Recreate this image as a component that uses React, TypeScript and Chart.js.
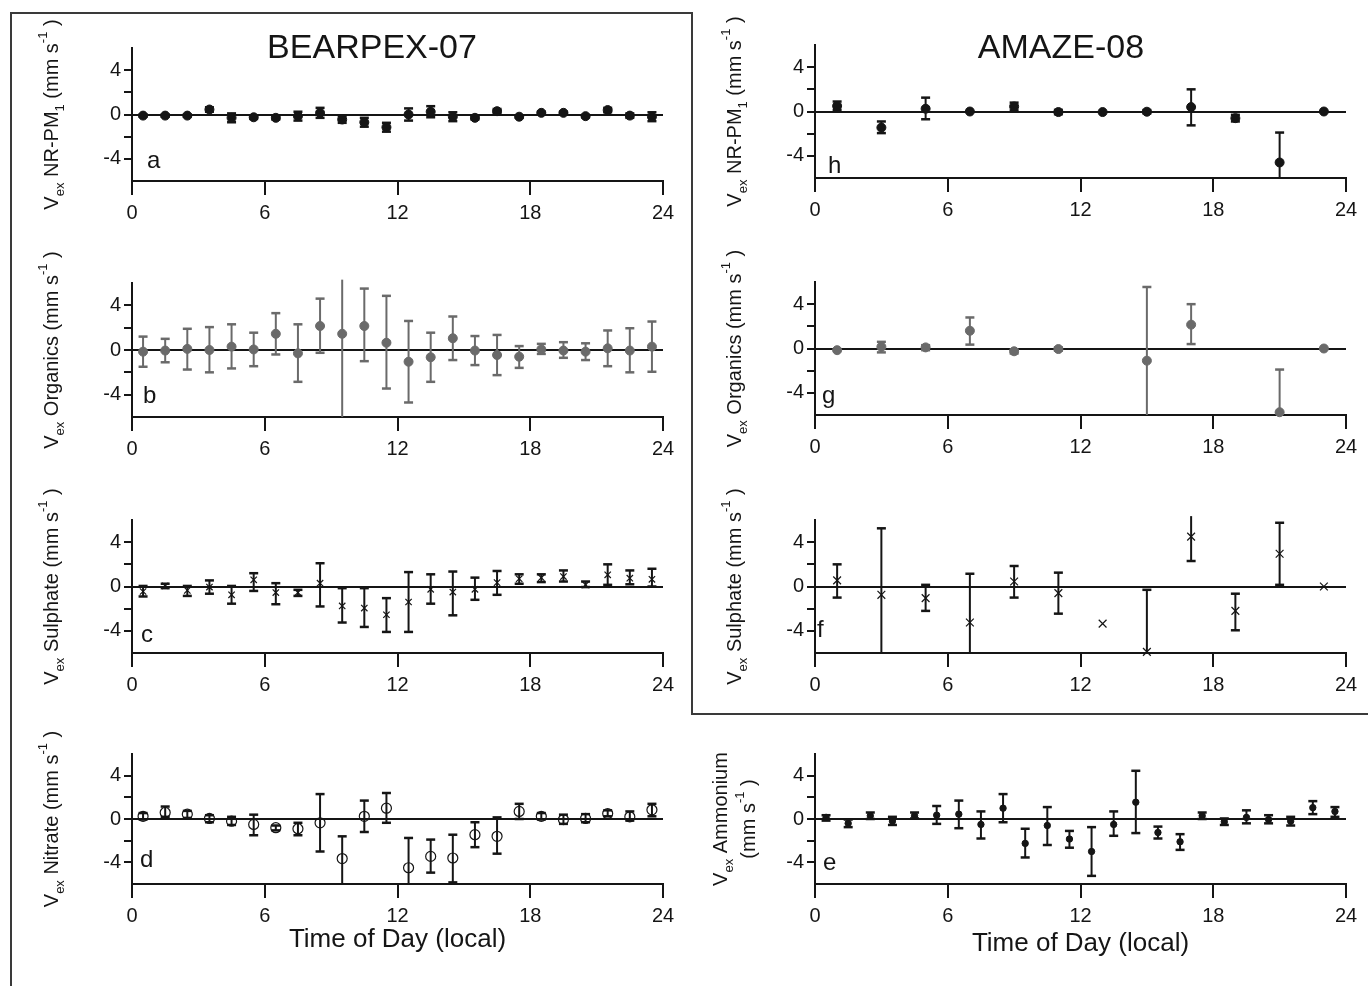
import React, { useEffect, useRef } from 'react';
import { Chart, registerables } from 'chart.js';

Chart.register(...registerables);

const FONT = '"Liberation Sans", Arial, Helvetica, sans-serif';
Chart.defaults.font.family = FONT;

const BLACK = '#151515';
const GRAY = '#6a6a6a';

// ---------- tick labels ----------
const xTickValues = [0, 6, 12, 18, 24];
const yTickLabelled = [-4, 0, 4];
const xAxisTitle = 'Time of Day (local)';
const titleBearpex = 'BEARPEX-07';
const titleAmaze = 'AMAZE-08';

// ---------- x categories (hour of day) ----------
const halfHours = [0.5, 1.5, 2.5, 3.5, 4.5, 5.5, 6.5, 7.5, 8.5, 9.5, 10.5, 11.5, 12.5, 13.5, 14.5, 15.5, 16.5, 17.5, 18.5, 19.5, 20.5, 21.5, 22.5, 23.5];
const oddHours = [1, 3, 5, 7, 9, 11, 13, 15, 17, 19, 21, 23];
const amazeOrgHours = [1, 3, 5, 7, 9, 11, 15, 17, 21, 23];

// ---------- BEARPEX-07 ----------
// a: NR-PM1
const bpNrpmVal = [-0.1, -0.1, -0.1, 0.45, -0.3, -0.25, -0.3, -0.15, 0.15, -0.45, -0.7, -1.15, 0, 0.25, -0.2, -0.3, 0.3, -0.2, 0.15, 0.15, -0.15, 0.4, -0.1, -0.2];
const bpNrpmLow = [-0.2, -0.2, -0.2, 0.25, -0.7, -0.4, -0.45, -0.55, -0.3, -0.75, -1.1, -1.55, -0.55, -0.25, -0.6, -0.45, 0.1, -0.3, 0.05, 0.05, -0.25, 0.2, -0.3, -0.6];
const bpNrpmHigh = [0, 0, 0, 0.65, 0.1, -0.1, -0.15, 0.25, 0.6, -0.15, -0.3, -0.75, 0.55, 0.75, 0.2, -0.15, 0.5, -0.1, 0.25, 0.25, -0.05, 0.6, 0.1, 0.2];
// b: Organics
const bpOrgVal = [-0.15, -0.05, 0.1, 0, 0.3, 0.05, 1.45, -0.3, 2.15, 1.45, 2.15, 0.65, -1.05, -0.65, 1.05, -0.05, -0.45, -0.6, 0.05, -0.05, -0.15, 0.15, -0.05, 0.3];
const bpOrgLow = [-1.5, -1.1, -1.75, -2.0, -1.65, -1.45, -0.4, -2.85, -0.25, -6.5, -1.0, -3.45, -4.7, -2.85, -0.9, -1.35, -2.25, -1.6, -0.35, -0.7, -0.9, -1.45, -2.0, -1.95];
const bpOrgHigh = [1.2, 1.0, 1.9, 2.05, 2.3, 1.55, 3.3, 2.3, 4.6, 6.3, 5.5, 4.85, 2.6, 1.55, 3.0, 1.25, 1.35, 0.35, 0.55, 0.7, 0.6, 1.75, 1.95, 2.55];
// c: Sulphate
const bpSulVal = [-0.45, 0.05, -0.35, -0.05, -0.75, 0.6, -0.55, -0.55, 0.3, -1.75, -1.95, -2.55, -1.4, -0.25, -0.5, -0.25, 0.35, 0.7, 0.8, 0.9, 0.15, 1.05, 0.75, 0.65];
const bpSulLow = [-0.9, -0.15, -0.85, -0.65, -1.55, -0.4, -1.6, -0.85, -1.8, -3.25, -3.65, -4.1, -4.1, -1.55, -2.6, -1.2, -0.75, 0.25, 0.4, 0.45, -0.05, 0.15, 0.2, 0];
const bpSulHigh = [0.05, 0.25, 0.05, 0.55, 0.05, 1.2, 0.3, -0.3, 2.1, -0.15, -0.15, -1.05, 1.3, 1.1, 1.35, 0.8, 1.4, 1.1, 1.1, 1.45, 0.45, 2.0, 1.45, 1.6];
// d: Nitrate
const bpNitVal = [0.25, 0.6, 0.45, 0.05, -0.2, -0.5, -0.8, -0.9, -0.35, -3.65, 0.25, 1.0, -4.5, -3.45, -3.6, -1.45, -1.6, 0.7, 0.25, -0.05, 0.05, 0.5, 0.2, 0.85];
const bpNitLow = [-0.05, 0.2, 0.1, -0.3, -0.55, -1.5, -1.05, -1.5, -3.0, -6.5, -1.2, -0.35, -6.5, -4.95, -5.85, -2.6, -3.2, 0, -0.05, -0.45, -0.3, 0.25, -0.15, 0.25];
const bpNitHigh = [0.55, 1.15, 0.75, 0.35, 0.2, 0.4, -0.6, -0.35, 2.3, -1.6, 1.7, 2.4, -1.75, -1.9, -1.45, -0.3, 0.15, 1.4, 0.55, 0.4, 0.45, 0.8, 0.7, 1.4];

// ---------- AMAZE-08 ----------
// h: NR-PM1
const amNrpmVal = [0.5, -1.45, 0.25, 0, 0.45, -0.05, -0.05, -0.02, 0.4, -0.6, -4.6, 0];
const amNrpmLow = [0.15, -1.95, -0.7, 0, 0.1, -0.25, -0.05, -0.17, -1.25, -0.9, -6.5, 0];
const amNrpmHigh = [0.9, -0.9, 1.25, 0, 0.8, 0.15, -0.05, 0.13, 2.0, -0.3, -1.9, 0];
// g: Organics
const amOrgVal = [-0.15, 0.15, 0.1, 1.6, -0.25, -0.05, -1.1, 2.15, -5.75, 0];
const amOrgLow = [-0.15, -0.35, -0.15, 0.35, -0.45, -0.2, -6.5, 0.4, -6.5, 0];
const amOrgHigh = [-0.15, 0.6, 0.3, 2.8, -0.1, 0.1, 5.55, 4.0, -1.9, 0];
// f: Sulphate
const amSulVal = [0.55, -0.75, -1.05, -3.25, 0.45, -0.6, -3.35, -5.9, 4.5, -2.2, 2.95, 0];
const amSulLow = [-1.0, -6.5, -2.2, -6.5, -1.0, -2.45, -3.35, -6.5, 2.3, -3.95, 0.15, 0];
const amSulHigh = [2.0, 5.25, 0.15, 1.15, 1.85, 1.25, -3.35, -0.3, 6.4, -0.65, 5.75, 0];
// e: Ammonium
const amAmmVal = [0.15, -0.4, 0.3, -0.2, 0.3, 0.35, 0.45, -0.5, 1.0, -2.25, -0.6, -1.85, -3.0, -0.5, 1.55, -1.25, -2.1, 0.3, -0.25, 0.15, -0.05, -0.2, 1.05, 0.7];
const amAmmLow = [-0.15, -0.75, 0, -0.55, 0.05, -0.45, -0.85, -1.8, -0.3, -3.55, -2.4, -2.65, -5.25, -1.55, -1.3, -1.8, -2.85, 0, -0.55, -0.4, -0.4, -0.6, 0.45, 0.2];
const amAmmHigh = [0.35, -0.05, 0.6, 0.2, 0.6, 1.2, 1.7, 0.7, 2.3, -0.9, 1.1, -1.1, -0.75, 0.7, 4.45, -0.7, -1.4, 0.6, 0.05, 0.8, 0.35, 0.2, 1.65, 1.1];

const Y_MIN = -6;
const Y_MAX = 6;
const Y_OVERSHOOT = 6.35;

type Seg = [string, string];

// y-axis label pieces (text with sub/superscripts)
const lblNrpm: Seg[] = [['V', ''], ['ex', 'sub'], [' NR-PM', ''], ['1', 'sub'], [' (mm s', ''], ['-1', 'sup'], [' )', '']];
const lblOrg: Seg[] = [['V', ''], ['ex', 'sub'], [' Organics (mm s', ''], ['-1', 'sup'], [' )', '']];
const lblSul: Seg[] = [['V', ''], ['ex', 'sub'], [' Sulphate (mm s', ''], ['-1', 'sup'], [' )', '']];
const lblNit: Seg[] = [['V', ''], ['ex', 'sub'], [' Nitrate (mm s', ''], ['-1', 'sup'], [' )', '']];
const lblAmm1: Seg[] = [['V', ''], ['ex', 'sub'], [' Ammonium', '']];
const lblAmm2: Seg[] = [['(mm s', ''], ['-1', 'sup'], [' )', '']];

function drawRich(ctx: CanvasRenderingContext2D, segs: Seg[], baseX: number, centerY: number, size: number) {
  ctx.save();
  ctx.translate(baseX, centerY);
  ctx.rotate(-Math.PI / 2);
  const small = Math.round(size * 0.65);
  const fontFor = (k: string) => `${k ? small : size}px ${FONT}`;
  let total = 0;
  segs.forEach(([t, k]) => {
    ctx.font = fontFor(k);
    total += ctx.measureText(t).width;
  });
  let x = -total / 2;
  ctx.textAlign = 'left';
  ctx.textBaseline = 'alphabetic';
  ctx.fillStyle = BLACK;
  segs.forEach(([t, k]) => {
    ctx.font = fontFor(k);
    const dy = k === 'sub' ? size * 0.28 : k === 'sup' ? -size * 0.55 : 0;
    ctx.fillText(t, x, dy);
    x += ctx.measureText(t).width;
  });
  ctx.restore();
}

const errorBarPlugin = {
  id: 'errorBars',
  beforeDatasetsDraw(chart: any) {
    const ctx: CanvasRenderingContext2D = chart.ctx;
    const xs = chart.scales.x;
    const ys = chart.scales.y;
    chart.data.datasets.forEach((ds: any) => {
      if (!ds.errLow) return;
      ctx.save();
      ctx.strokeStyle = ds.errColor;
      ctx.lineCap = 'butt';
      const cap = 4.5;
      ds.data.forEach((p: any, i: number) => {
        const lo = ds.errLow[i];
        const hi = ds.errHigh[i];
        if (hi - lo < 0.01) return;
        const x = xs.getPixelForValue(p.x);
        const y1 = ys.getPixelForValue(Math.max(lo, Y_MIN));
        const y2 = ys.getPixelForValue(Math.min(hi, Y_OVERSHOOT));
        ctx.lineWidth = ds.errWidth;
        ctx.beginPath();
        ctx.moveTo(x, y1);
        ctx.lineTo(x, y2);
        ctx.stroke();
        ctx.lineWidth = ds.errWidth + 0.5;
        if (lo >= Y_MIN) {
          ctx.beginPath();
          ctx.moveTo(x - cap, y1);
          ctx.lineTo(x + cap, y1);
          ctx.stroke();
        }
        if (hi <= Y_MAX) {
          ctx.beginPath();
          ctx.moveTo(x - cap, y2);
          ctx.lineTo(x + cap, y2);
          ctx.stroke();
        }
      });
      ctx.restore();
    });
  },
};

interface PanelDef {
  key: string;
  left: number;
  width: number;
  plotLeft: number;
  plotRight: number;
  plotTop: number;
  plotBottom: number;
  xH: number;
  xTitle: boolean;
  hours: number[];
  vals: number[];
  low: number[];
  high: number[];
  style: string;
  radius: number;
  fill: string;
  stroke: string;
  borderW: number;
  errColor: string;
  letter: string;
  letterDx: number;
  letterDy: number;
  title?: string;
  titleX?: number;
  titleY?: number;
  ylabels: Seg[][];
  ylabelX: number[];
}

const TOP_PAD = 45;
const LEFT_COL = { left: 0, width: 688, plotLeft: 132, plotRight: 663 };
const RIGHT_COL = { left: 695, width: 673, plotLeft: 815, plotRight: 1346 };

const panels: PanelDef[] = [
  {
    key: 'a', ...LEFT_COL, plotTop: 48, plotBottom: 181, xH: 45, xTitle: false,
    hours: halfHours, vals: bpNrpmVal, low: bpNrpmLow, high: bpNrpmHigh,
    style: 'circle', radius: 4.5, fill: BLACK, stroke: BLACK, borderW: 1, errColor: BLACK,
    letter: 'a', letterDx: 15, letterDy: 13, title: titleBearpex, titleX: 372, titleY: 57.5,
    ylabels: [lblNrpm], ylabelX: [58],
  },
  {
    key: 'b', ...LEFT_COL, plotTop: 283, plotBottom: 417, xH: 45, xTitle: false,
    hours: halfHours, vals: bpOrgVal, low: bpOrgLow, high: bpOrgHigh,
    style: 'circle', radius: 4.5, fill: GRAY, stroke: GRAY, borderW: 1, errColor: GRAY,
    letter: 'b', letterDx: 11, letterDy: 14, ylabels: [lblOrg], ylabelX: [58],
  },
  {
    key: 'c', ...LEFT_COL, plotTop: 520, plotBottom: 653, xH: 45, xTitle: false,
    hours: halfHours, vals: bpSulVal, low: bpSulLow, high: bpSulHigh,
    style: 'crossRot', radius: 4.5, fill: BLACK, stroke: BLACK, borderW: 1.2, errColor: BLACK,
    letter: 'c', letterDx: 9, letterDy: 11, ylabels: [lblSul], ylabelX: [58],
  },
  {
    key: 'd', ...LEFT_COL, plotTop: 754, plotBottom: 884, xH: 71, xTitle: true,
    hours: halfHours, vals: bpNitVal, low: bpNitLow, high: bpNitHigh,
    style: 'circle', radius: 5, fill: 'rgba(255,255,255,0)', stroke: BLACK, borderW: 1.2, errColor: BLACK,
    letter: 'd', letterDx: 8, letterDy: 17, ylabels: [lblNit], ylabelX: [58],
  },
  {
    key: 'h', ...RIGHT_COL, plotTop: 45, plotBottom: 178, xH: 45, xTitle: false,
    hours: oddHours, vals: amNrpmVal, low: amNrpmLow, high: amNrpmHigh,
    style: 'circle', radius: 4.5, fill: BLACK, stroke: BLACK, borderW: 1, errColor: BLACK,
    letter: 'h', letterDx: 13, letterDy: 5, title: titleAmaze, titleX: 1061, titleY: 57.5,
    ylabels: [lblNrpm], ylabelX: [741],
  },
  {
    key: 'g', ...RIGHT_COL, plotTop: 282, plotBottom: 415, xH: 45, xTitle: false,
    hours: amazeOrgHours, vals: amOrgVal, low: amOrgLow, high: amOrgHigh,
    style: 'circle', radius: 4.5, fill: GRAY, stroke: GRAY, borderW: 1, errColor: GRAY,
    letter: 'g', letterDx: 7, letterDy: 12, ylabels: [lblOrg], ylabelX: [741],
  },
  {
    key: 'f', ...RIGHT_COL, plotTop: 520, plotBottom: 653, xH: 45, xTitle: false,
    hours: oddHours, vals: amSulVal, low: amSulLow, high: amSulHigh,
    style: 'crossRot', radius: 5.5, fill: BLACK, stroke: BLACK, borderW: 1.2, errColor: BLACK,
    letter: 'f', letterDx: 2, letterDy: 16, ylabels: [lblSul], ylabelX: [741],
  },
  {
    key: 'e', ...RIGHT_COL, plotTop: 754, plotBottom: 884, xH: 75, xTitle: true,
    hours: halfHours, vals: amAmmVal, low: amAmmLow, high: amAmmHigh,
    style: 'circle', radius: 3.2, fill: BLACK, stroke: BLACK, borderW: 1, errColor: BLACK,
    letter: 'e', letterDx: 8, letterDy: 14, ylabels: [lblAmm1, lblAmm2], ylabelX: [727, 755],
  },
];

function panelTop(p: PanelDef) {
  return p.plotTop - TOP_PAD;
}
function panelHeight(p: PanelDef) {
  return p.plotBottom - p.plotTop + TOP_PAD + p.xH;
}

function makeTextPlugin(p: PanelDef) {
  const top = panelTop(p);
  return {
    id: 'panelText',
    afterDraw(chart: any) {
      const ctx: CanvasRenderingContext2D = chart.ctx;
      const a = chart.chartArea;
      ctx.save();
      ctx.fillStyle = BLACK;
      ctx.font = `24px ${FONT}`;
      ctx.textAlign = 'left';
      ctx.textBaseline = 'alphabetic';
      ctx.fillText(p.letter, a.left + p.letterDx, a.bottom - p.letterDy);
      if (p.title) {
        ctx.font = `34px ${FONT}`;
        ctx.textAlign = 'center';
        ctx.fillText(p.title, (p.titleX as number) - p.left, (p.titleY as number) - top);
      }
      const cy = (a.top + a.bottom) / 2;
      p.ylabels.forEach((segs, i) => drawRich(ctx, segs, p.ylabelX[i] - p.left, cy, 20));
      ctx.restore();
    },
  };
}

function makeConfig(p: PanelDef): any {
  return {
    type: 'scatter',
    data: {
      datasets: [
        {
          data: p.hours.map((hr, i) => ({ x: hr, y: p.vals[i] })),
          errLow: p.low,
          errHigh: p.high,
          errColor: p.errColor,
          errWidth: 2,
          pointStyle: p.style,
          pointRadius: p.radius,
          pointHoverRadius: p.radius,
          pointBackgroundColor: p.fill,
          pointBorderColor: p.stroke,
          pointBorderWidth: p.borderW,
          showLine: false,
          clip: false,
        },
      ],
    },
    options: {
      responsive: false,
      maintainAspectRatio: false,
      animation: false,
      events: [],
      layout: {
        padding: {
          left: 0,
          top: TOP_PAD,
          right: p.width - (p.plotRight - p.left),
          bottom: 0,
        },
      },
      plugins: {
        legend: { display: false },
        tooltip: { enabled: false },
        title: { display: false },
      },
      scales: {
        x: {
          type: 'linear',
          position: 'bottom',
          min: 0,
          max: 24,
          afterFit: (s: any) => {
            s.height = p.xH;
          },
          ticks: {
            stepSize: 6,
            autoSkip: false,
            maxRotation: 0,
            padding: 6,
            color: BLACK,
            font: { size: 20, family: FONT },
            callback: (v: number) => (xTickValues.includes(v) ? String(v) : ''),
          },
          grid: {
            drawOnChartArea: false,
            drawTicks: true,
            tickLength: 14,
            tickColor: BLACK,
            tickWidth: 2,
            lineWidth: 2,
          },
          border: { display: true, color: BLACK, width: 2 },
          title: p.xTitle
            ? { display: true, text: xAxisTitle, color: BLACK, font: { size: 26, family: FONT }, padding: { top: 0, bottom: 0 } }
            : { display: false },
        },
        y: {
          type: 'linear',
          min: Y_MIN,
          max: Y_MAX,
          afterFit: (s: any) => {
            s.width = p.plotLeft - p.left;
          },
          ticks: {
            stepSize: 2,
            autoSkip: false,
            padding: 3,
            color: BLACK,
            font: { size: 20, family: FONT },
            callback: (v: number) => (yTickLabelled.includes(v) ? String(v) : ''),
          },
          grid: {
            drawOnChartArea: true,
            color: (c: any) => (c.tick && c.tick.value === 0 ? BLACK : 'rgba(0,0,0,0)'),
            lineWidth: 2,
            tickLength: 8,
            tickWidth: 2,
            tickColor: (c: any) => (c.tick && Math.abs(c.tick.value) === 6 ? 'rgba(0,0,0,0)' : BLACK),
          },
          border: { display: true, color: BLACK, width: 2 },
        },
      },
    },
    plugins: [errorBarPlugin, makeTextPlugin(p)],
  };
}

function Panel({ p }: { p: PanelDef }) {
  const ref = useRef<HTMLCanvasElement>(null);
  const top = panelTop(p);
  const h = panelHeight(p);
  useEffect(() => {
    if (!ref.current) return;
    const chart = new Chart(ref.current, makeConfig(p));
    return () => chart.destroy();
  }, []);
  return (
    <canvas
      ref={ref}
      width={p.width}
      height={h}
      style={{ position: 'absolute', left: p.left, top, width: p.width, height: h }}
    />
  );
}

const frameColor = '#3a3a3a';

export default function App() {
  return (
    <div style={{ position: 'absolute', left: 0, top: 0, width: 1368, height: 987, background: '#fff', overflow: 'hidden' }}>
      <div style={{ position: 'absolute', left: 10, top: 12, width: 683, height: 2, background: frameColor }} />
      <div style={{ position: 'absolute', left: 10, top: 12, width: 2, height: 974, background: frameColor }} />
      <div style={{ position: 'absolute', left: 691, top: 12, width: 2, height: 703, background: frameColor }} />
      <div style={{ position: 'absolute', left: 691, top: 713, width: 677, height: 2, background: frameColor }} />
      {panels.map((p) => (
        <Panel key={p.key} p={p} />
      ))}
    </div>
  );
}
